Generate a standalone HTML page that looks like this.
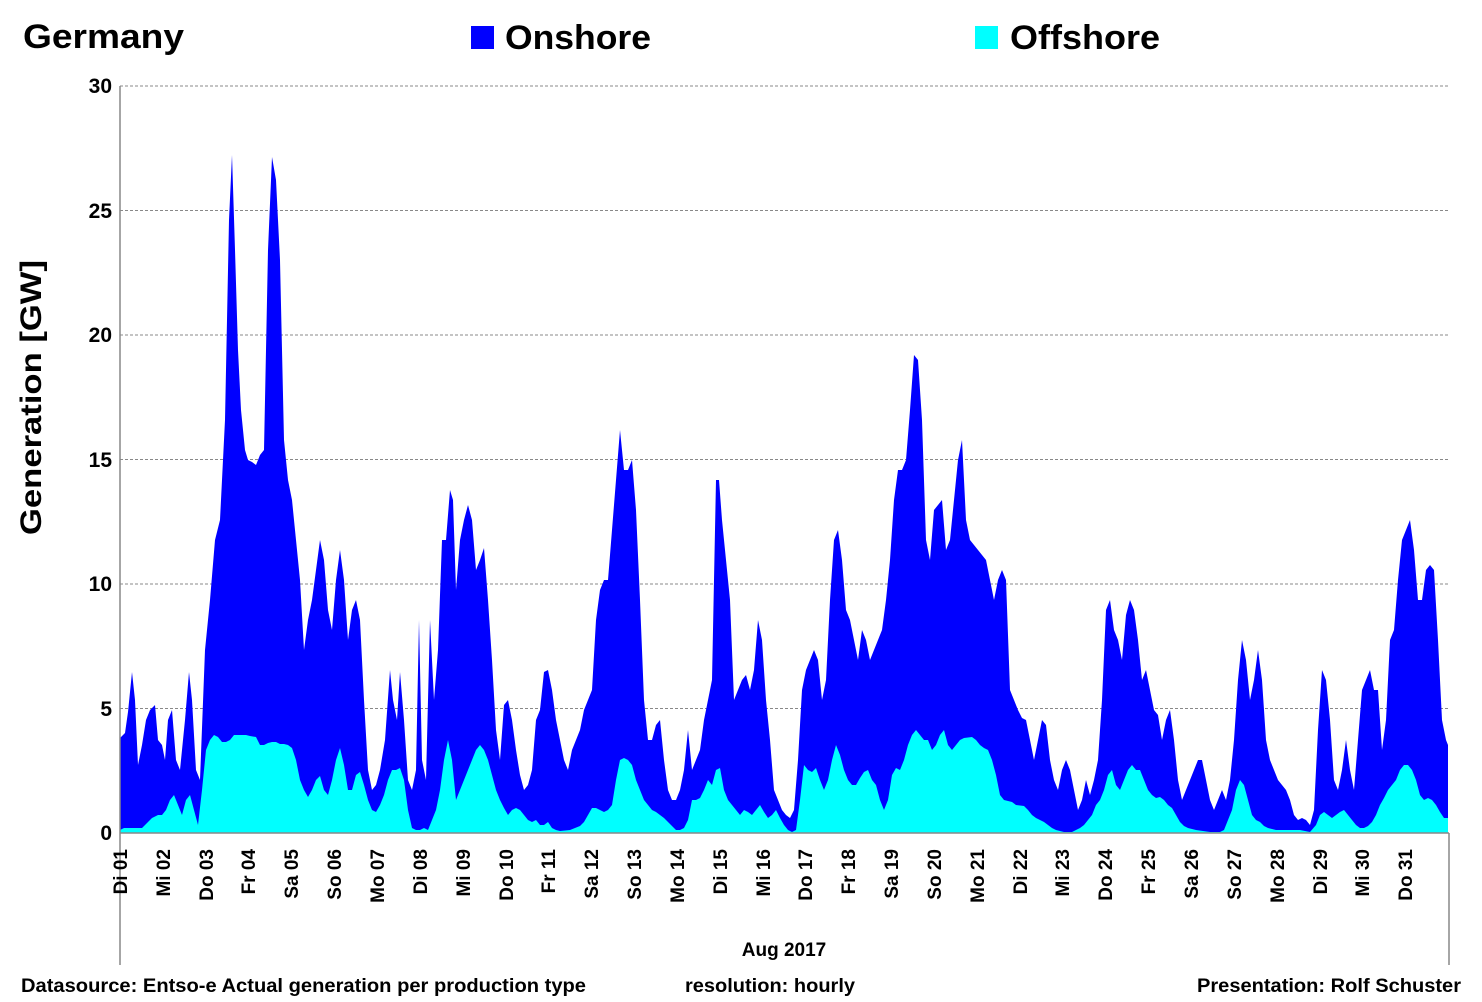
<!DOCTYPE html>
<html><head><meta charset="utf-8"><style>
body{margin:0;background:#fff;}
svg{display:block;font-family:"Liberation Sans",sans-serif;font-weight:bold;}
</style></head><body>
<svg width="1482" height="1002" viewBox="0 0 1482 1002" xmlns="http://www.w3.org/2000/svg">
<rect width="1482" height="1002" fill="#fff"/>
<g stroke="#888" stroke-width="1" stroke-dasharray="3,2">
<line x1="120" y1="86" x2="1448" y2="86"/>
<line x1="120" y1="210.5" x2="1448" y2="210.5"/>
<line x1="120" y1="335" x2="1448" y2="335"/>
<line x1="120" y1="459.5" x2="1448" y2="459.5"/>
<line x1="120" y1="584" x2="1448" y2="584"/>
<line x1="120" y1="708.5" x2="1448" y2="708.5"/>
</g>
<polygon fill="#0000ff" points="120,833 120,738 125,733 128,712 132,672 135,700 138,765 142,745 146,720 150,710 155,705 158,740 162,745 165,760 168,720 172,710 176,760 180,770 185,720 189,672 192,700 196,770 200,780 205,650 210,600 215,540 220,520 225,420 229,220 232,155 235,250 238,350 241,410 245,450 248,460 252,462 256,465 260,455 264,450 268,250 272,157 276,180 280,260 284,440 288,480 292,500 296,540 300,580 304,650 308,620 312,600 316,570 320,540 324,560 328,610 332,630 336,580 340,550 344,580 348,640 352,610 356,600 360,620 364,700 368,770 372,790 376,785 380,770 385,740 390,670 393,700 397,720 400,672 404,720 408,780 412,790 416,770 419,620 422,760 426,780 430,620 434,700 438,650 442,540 446,540 450,490 453,500 456,590 460,540 464,520 468,505 472,520 476,570 480,560 484,548 488,600 492,660 496,730 500,760 504,705 508,700 512,720 516,750 520,775 524,790 528,785 532,770 536,720 540,710 544,672 548,670 552,690 556,720 560,740 564,760 568,770 572,750 576,740 580,730 584,710 588,700 592,690 596,620 600,590 604,580 608,580 612,530 616,480 620,430 624,470 628,470 632,460 636,510 640,600 644,700 648,740 652,740 656,725 660,720 664,760 668,790 672,800 676,800 680,790 684,770 688,730 692,770 696,760 700,750 704,720 708,700 712,680 716,480 719,480 722,520 726,560 730,600 734,700 738,690 742,680 746,675 750,690 754,670 758,620 762,640 766,700 770,740 774,790 778,800 782,810 786,815 790,818 794,810 798,760 802,690 806,670 810,660 814,650 818,660 822,700 826,680 830,600 834,540 838,530 842,560 846,610 850,620 854,640 858,660 862,630 866,640 870,660 874,650 878,640 882,630 886,600 890,560 894,500 898,470 902,470 906,460 910,410 914,355 918,360 922,420 926,540 930,560 934,510 938,505 942,500 946,550 950,540 954,500 958,460 962,440 966,520 970,540 974,545 978,550 982,555 986,560 990,580 994,600 998,580 1002,570 1006,580 1010,690 1014,700 1018,710 1022,718 1026,720 1030,740 1034,760 1038,740 1042,720 1046,725 1050,760 1054,780 1058,790 1062,770 1066,760 1070,770 1074,790 1078,810 1082,800 1086,780 1090,795 1094,780 1098,760 1102,700 1106,610 1110,600 1114,630 1118,640 1122,660 1126,615 1130,600 1134,610 1138,640 1142,680 1146,670 1150,690 1154,710 1158,715 1162,740 1166,720 1170,710 1174,740 1178,780 1182,800 1186,790 1190,780 1194,770 1198,760 1202,760 1206,780 1210,800 1214,810 1218,800 1222,790 1226,800 1230,780 1234,740 1238,680 1242,640 1246,660 1250,700 1254,680 1258,650 1262,680 1266,740 1270,760 1274,770 1278,780 1282,785 1286,790 1290,800 1294,815 1298,820 1302,818 1306,820 1310,825 1314,810 1318,730 1322,670 1326,680 1330,720 1334,780 1338,790 1342,770 1346,740 1350,770 1354,790 1358,740 1362,690 1366,680 1370,670 1374,690 1378,690 1382,750 1386,720 1390,640 1394,630 1398,580 1402,540 1406,530 1410,520 1414,550 1418,600 1422,600 1426,570 1430,565 1434,570 1438,640 1442,720 1446,740 1448,745 1448,833"/>
<polygon fill="#00ffff" points="120,833 120,830 124,828 135,828 142,828 148,822 152,818 158,815 162,815 166,810 170,800 174,795 178,805 182,815 186,800 190,795 194,810 198,825 202,790 206,750 210,740 214,735 218,737 222,742 226,742 230,740 234,735 246,735 250,736 256,737 260,745 264,745 268,743 272,742 276,742 280,744 284,744 288,745 292,748 296,760 300,780 304,790 308,797 312,790 316,780 320,776 324,790 328,795 332,780 336,760 340,748 344,765 348,790 352,790 356,775 360,772 364,785 368,800 372,810 376,812 380,805 384,795 388,780 392,770 396,770 400,768 404,780 408,810 412,828 416,830 420,830 424,828 428,830 432,820 436,810 440,790 444,760 448,740 452,760 456,800 460,790 464,780 468,770 472,760 476,750 480,745 484,750 488,760 492,775 496,790 500,800 504,808 508,815 512,810 516,808 520,810 524,815 528,820 532,822 536,820 540,825 544,825 548,822 552,828 556,830 560,831 570,830 580,826 584,822 588,815 592,808 596,808 600,810 604,812 608,810 612,805 616,780 620,760 624,758 628,760 632,765 636,780 640,790 644,800 648,805 652,810 656,812 660,815 664,818 668,822 672,826 676,830 680,830 684,828 688,820 692,800 696,800 700,798 704,790 708,780 712,785 716,770 720,768 724,790 728,800 732,805 736,810 740,815 744,810 748,812 752,815 756,810 760,805 764,812 768,818 772,815 776,810 780,818 784,825 788,830 792,832 796,830 800,800 804,765 808,770 812,772 816,768 820,780 824,790 828,780 832,760 836,745 840,755 844,770 848,780 852,785 856,785 860,778 864,772 868,770 872,780 876,785 880,800 884,810 888,800 892,775 896,768 900,770 904,760 908,745 912,735 916,730 920,735 924,740 928,740 932,750 936,745 940,735 944,730 948,745 952,750 956,745 960,740 964,738 972,737 976,740 980,745 984,748 988,750 992,760 996,775 1000,795 1004,800 1012,802 1016,805 1024,806 1028,810 1032,815 1036,818 1040,820 1044,822 1048,825 1052,828 1056,830 1064,832 1072,832 1076,830 1080,828 1084,825 1088,820 1092,815 1096,805 1100,800 1104,790 1108,775 1112,770 1116,785 1120,790 1124,780 1128,770 1132,765 1136,770 1140,770 1144,780 1148,790 1152,795 1156,798 1160,797 1164,800 1168,805 1172,808 1176,815 1180,822 1184,826 1188,828 1196,830 1210,832 1220,832 1224,830 1228,820 1232,810 1236,790 1240,780 1244,785 1248,800 1252,815 1256,820 1260,822 1264,826 1268,828 1276,830 1300,830 1310,832 1316,825 1320,815 1324,812 1328,815 1332,818 1336,815 1340,812 1344,810 1348,815 1352,820 1356,825 1360,828 1364,828 1368,826 1372,822 1376,815 1380,805 1384,798 1388,790 1392,785 1396,780 1400,770 1404,765 1408,765 1412,770 1416,780 1420,795 1424,800 1428,798 1432,800 1436,805 1440,812 1444,818 1448,818 1448,833"/>
<g stroke="#888" stroke-width="1.5">
<line x1="120" y1="86" x2="120" y2="965"/>
<line x1="1449" y1="833" x2="1449" y2="965"/>
<line x1="120" y1="833" x2="1449" y2="833"/>
</g>
<g font-size="21" text-anchor="end">
<text x="112" y="93">30</text>
<text x="112" y="218">25</text>
<text x="112" y="342">20</text>
<text x="112" y="467">15</text>
<text x="112" y="591">10</text>
<text x="112" y="716">5</text>
<text x="112" y="840">0</text>
</g>
<text transform="translate(41,535) rotate(-90)" font-size="30" textLength="275" lengthAdjust="spacingAndGlyphs">Generation   [GW]</text>
<text x="23" y="48" font-size="34" textLength="161" lengthAdjust="spacingAndGlyphs">Germany</text>
<rect x="471" y="26" width="23" height="23" fill="#0000ff"/>
<text x="505" y="49" font-size="34" textLength="146" lengthAdjust="spacingAndGlyphs">Onshore</text>
<rect x="975" y="26" width="23" height="23" fill="#00ffff"/>
<text x="1010" y="49" font-size="34" textLength="150" lengthAdjust="spacingAndGlyphs">Offshore</text>
<g font-size="19" text-anchor="end">
<text transform="translate(127,849) rotate(-90)">Di 01</text>
<text transform="translate(170,849) rotate(-90)">Mi 02</text>
<text transform="translate(213,849) rotate(-90)">Do 03</text>
<text transform="translate(255,849) rotate(-90)">Fr 04</text>
<text transform="translate(298,849) rotate(-90)">Sa 05</text>
<text transform="translate(341,849) rotate(-90)">So 06</text>
<text transform="translate(384,849) rotate(-90)">Mo 07</text>
<text transform="translate(427,849) rotate(-90)">Di 08</text>
<text transform="translate(470,849) rotate(-90)">Mi 09</text>
<text transform="translate(513,849) rotate(-90)">Do 10</text>
<text transform="translate(555,849) rotate(-90)">Fr 11</text>
<text transform="translate(598,849) rotate(-90)">Sa 12</text>
<text transform="translate(641,849) rotate(-90)">So 13</text>
<text transform="translate(684,849) rotate(-90)">Mo 14</text>
<text transform="translate(727,849) rotate(-90)">Di 15</text>
<text transform="translate(770,849) rotate(-90)">Mi 16</text>
<text transform="translate(812,849) rotate(-90)">Do 17</text>
<text transform="translate(855,849) rotate(-90)">Fr 18</text>
<text transform="translate(898,849) rotate(-90)">Sa 19</text>
<text transform="translate(941,849) rotate(-90)">So 20</text>
<text transform="translate(984,849) rotate(-90)">Mo 21</text>
<text transform="translate(1027,849) rotate(-90)">Di 22</text>
<text transform="translate(1069,849) rotate(-90)">Mi 23</text>
<text transform="translate(1112,849) rotate(-90)">Do 24</text>
<text transform="translate(1155,849) rotate(-90)">Fr 25</text>
<text transform="translate(1198,849) rotate(-90)">Sa 26</text>
<text transform="translate(1241,849) rotate(-90)">So 27</text>
<text transform="translate(1284,849) rotate(-90)">Mo 28</text>
<text transform="translate(1327,849) rotate(-90)">Di 29</text>
<text transform="translate(1369,849) rotate(-90)">Mi 30</text>
<text transform="translate(1412,849) rotate(-90)">Do 31</text>
</g>
<text x="784" y="956" font-size="19" text-anchor="middle">Aug 2017</text>
<text x="21" y="992" font-size="19" textLength="565" lengthAdjust="spacingAndGlyphs">Datasource: Entso-e  Actual generation per production type</text>
<text x="685" y="992" font-size="19" textLength="170" lengthAdjust="spacingAndGlyphs">resolution: hourly</text>
<text x="1197" y="992" font-size="19" textLength="264" lengthAdjust="spacingAndGlyphs">Presentation:  Rolf Schuster</text>
</svg>
</body></html>
